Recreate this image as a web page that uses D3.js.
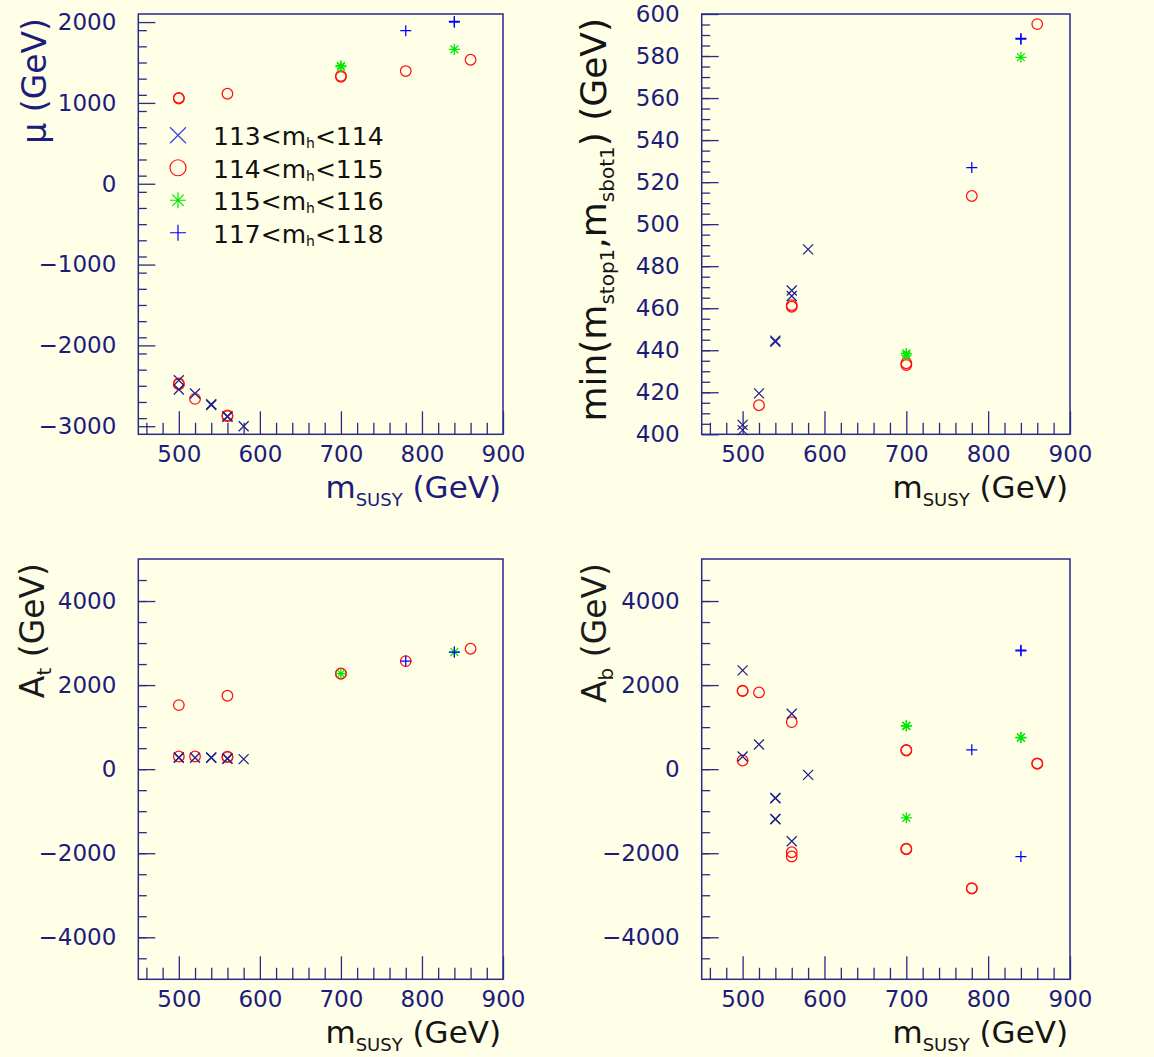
<!DOCTYPE html>
<html><head><meta charset="utf-8">
<script src="https://cdn.jsdelivr.net/npm/d3@7"></script>
<style>body{margin:0;background:#fffee6} svg{display:block}</style>
</head><body><svg id="c" width="1154" height="1057"></svg>
<script>
// ---------- data ----------
const xMajorTicks = [500, 600, 700, 800, 900];
const xDomain = [450, 900];
const muTicks = [-3000, -2000, -1000, 0, 1000, 2000];
const mstopTicks = [400, 420, 440, 460, 480, 500, 520, 540, 560, 580, 600];
const aTicks = [-4000, -2000, 0, 2000, 4000];

const legendLabels = ["113", "114", "115", "117"];
const legendLabelsHi = ["114", "115", "116", "118"];

// panel 1: mu
const muCross = [[500,-2431],[500,-2546],[520,-2595],[540,-2728],[540,-2738],[560,-2876],[560,-2884],[580,-3000]];
const muCircle = [[500,1055],[500,1063],[500,-2480],[500,-2472],[520,-2662],[560,1113],[560,-2876],[560,-2866],[700,1323],[700,1335],[780,1394],[860,1534]];
const muStar = [[700,1447],[700,1460],[840,1662]];
const muPlus = [[780,1893],[840,2008],[840,1998]];

// panel 2: min(mstop1, msbot1)
const msCross = [[500,402],[500,404.5],[520,419.5],[540,444],[540,444.6],[560,468.4],[560,465.8],[580,488]];
const msCircle = [[520,413.8],[560,460.7],[560,461.4],[700,433],[700,433.8],[780,513.4],[860,595.2]];
const msStar = [[700,437.7],[700,438.5],[840,579.4]];
const msPlus = [[780,526.9],[840,588],[840,588.4]];

// panel 3: A_t
const atCross = [[500,270],[500,276],[520,270],[540,270],[540,278],[560,246],[560,254],[580,238]];
const atCircle = [[500,1524],[500,302],[520,302],[560,1746],[560,286],[560,294],[700,2270],[700,2280],[780,2571],[860,2865]];
const atStar = [[700,2270],[840,2786]];
const atPlus = [[780,2571],[840,2786]];

// panel 4: A_b
const abCross = [[500,2349],[500,302],[520,587],[540,-683],[540,-693],[540,-1183],[540,-1193],[560,1317],[560,-1714],[580,-135]];
const abCircle = [[500,1857],[500,1869],[500,206],[520,1825],[560,1119],[560,-1976],[560,-2079],[700,444],[700,456],[700,-1905],[700,-1895],[780,-2841],[780,-2831],[860,127],[860,139]];
const abStar = [[700,1024],[700,1036],[700,-1159],[840,746],[840,758]];
const abPlus = [[780,460],[840,2817],[840,2829],[840,-2079]];

// ---------- style ----------
const FONT = "DejaVu Sans, Liberation Sans, sans-serif";
const navy = "#1c1c7c";
const axisCol = "#2a2a88";
const colCross = "#20208e", colCrossLeg = "#3c3cee", colCircle = "#ff1010", colStar = "#00e800", colPlus = "#0000ff";

const svg = d3.select("#c");
svg.append("rect").attr("width", 1154).attr("height", 1057).attr("fill", "#fffee6");

function markerPath(type, s) {
  if (type === "cross") return `M${-s},${-s}L${s},${s}M${-s},${s}L${s},${-s}`;
  if (type === "plus") return `M${-s},0L${s},0M0,${-s}L0,${s}`;
  if (type === "star") { const d = s * 0.7071; return `M${-s},0L${s},0M0,${-s}L0,${s}M${-d},${-d}L${d},${d}M${-d},${d}L${d},${-d}`; }
  return "";
}
function drawMarker(g, type, cx, cy, size, color, sw) {
  if (type === "circle") {
    g.append("circle").attr("cx", cx).attr("cy", cy).attr("r", size).attr("fill", "none").attr("stroke", color).attr("stroke-width", sw);
  } else {
    g.append("path").attr("transform", `translate(${cx},${cy})`).attr("d", markerPath(type, size)).attr("fill", "none").attr("stroke", color).attr("stroke-width", sw);
  }
}

function panel(cfg) {
  const x = d3.scaleLinear().domain(xDomain).range([cfg.l, cfg.r]);
  const y = d3.scaleLinear().domain(cfg.ydom).range([cfg.b, cfg.t]);
  const g = svg.append("g");

  const xMinor = d3.range(460, 901, 20).filter(v => xMajorTicks.indexOf(v) < 0);
  const yMinor = d3.range(cfg.ydom[0], cfg.ydom[1] + 0.001, cfg.yMinorStep).filter(v => v > cfg.ydom[0] && v < cfg.ydom[1]);

  const style = sel => {
    sel.select(".domain").remove();
    sel.selectAll("line").attr("stroke", axisCol).attr("stroke-width", 1.3);
    sel.selectAll("text").attr("fill", navy).style("font-family", FONT).style("font-size", "23px");
  };
  g.append("g").attr("transform", `translate(0,${cfg.b})`)
    .call(d3.axisBottom(x).tickValues(xMinor).tickSize(-11.5).tickFormat("")).call(style);
  g.append("g").attr("transform", `translate(0,${cfg.b})`)
    .call(d3.axisBottom(x).tickValues(xMajorTicks).tickSize(-23).tickPadding(11).tickFormat(d3.format("d"))).call(style);
  g.append("g").attr("transform", `translate(${cfg.l},0)`)
    .call(d3.axisLeft(y).tickValues(yMinor).tickSize(-8.5).tickFormat("")).call(style);
  g.append("g").attr("transform", `translate(${cfg.l},0)`)
    .call(d3.axisLeft(y).tickValues(cfg.yTicks).tickSize(-17).tickPadding(22)
      .tickFormat(v => (v < 0 ? "\u2212" + Math.abs(v) : String(v)))).call(style);

  g.append("rect").attr("x", cfg.l).attr("y", cfg.t).attr("width", cfg.r - cfg.l).attr("height", cfg.b - cfg.t)
    .attr("fill", "none").attr("stroke", axisCol).attr("stroke-width", 1.5);

  const series = [
    ["circle", cfg.circle, colCircle, 5.3],
    ["cross", cfg.cross, colCross, 5],
    ["star", cfg.star, colStar, 5.5],
    ["plus", cfg.plus, colPlus, 5.5]
  ];
  const mg = g.append("g");
  series.forEach(([type, data, color, size]) => {
    data.forEach(d => {
      const yy = y(d[1]);
      if (yy < cfg.t - 1 || yy > cfg.b + 1) return;
      drawMarker(mg, type, x(d[0]), yy, size, color, 1.25);
    });
  });

  // x title
  const xt = g.append("text").attr("x", cfg.r - 2).attr("y", cfg.b + 64).attr("text-anchor", "end")
    .style("font-family", FONT).style("font-size", "31px").attr("fill", cfg.titleCol);
  xt.append("tspan").text("m");
  xt.append("tspan").text("SUSY").style("font-size", "18px").attr("dy", 8);
  xt.append("tspan").text(" (GeV)").attr("dy", -8);

  // y title
  const yt = g.append("text").attr("transform", `translate(${cfg.ytx},${cfg.t + 4}) rotate(-90)`)
    .attr("text-anchor", "end").style("font-family", FONT).style("font-size", cfg.ytSize + "px").attr("fill", cfg.ytCol);
  cfg.ytitle.forEach(([t, sub]) => {
    if (sub) yt.append("tspan").text(t).style("font-size", cfg.ytSub + "px").attr("dy", cfg.ytSubDy);
    else yt.append("tspan").text(t).attr("dy", 0);
  });
  // fix dy resets
  let shifted = false;
  yt.selectAll("tspan").each(function () {
    const el = d3.select(this);
    const isSub = el.style("font-size") === cfg.ytSub + "px";
    if (isSub) { el.attr("dy", shifted ? 0 : cfg.ytSubDy); shifted = true; }
    else { el.attr("dy", shifted ? -cfg.ytSubDy : 0); shifted = false; }
  });

  return { g, x, y };
}

panel({ l: 138.3, r: 503, t: 14, b: 434.3, ydom: [-3100, 2100], yTicks: muTicks, yMinorStep: 200,
  cross: muCross, circle: muCircle, star: muStar, plus: muPlus, titleCol: navy, ytCol: navy,
  ytx: 46, ytSize: 33, ytSub: 20, ytSubDy: 7, ytitle: [["\u03bc (GeV)", false]] });

panel({ l: 701.7, r: 1070, t: 14, b: 434.3, ydom: [400, 600], yTicks: mstopTicks, yMinorStep: 5,
  cross: msCross, circle: msCircle, star: msStar, plus: msPlus, titleCol: "#141414", ytCol: "#141414",
  ytx: 606, ytSize: 36, ytSub: 20, ytSubDy: 8,
  ytitle: [["min(m", false], ["stop1", true], [",m", false], ["sbot1", true], [") (GeV)", false]] });

panel({ l: 138.3, r: 503, t: 559, b: 979.3, ydom: [-5000, 5000], yTicks: aTicks, yMinorStep: 500,
  cross: atCross, circle: atCircle, star: atStar, plus: atPlus, titleCol: "#141414", ytCol: "#1a1a1a",
  ytx: 44, ytSize: 33, ytSub: 20, ytSubDy: 7, ytitle: [["A", false], ["t", true], [" (GeV)", false]] });

panel({ l: 701.7, r: 1070, t: 559, b: 979.3, ydom: [-5000, 5000], yTicks: aTicks, yMinorStep: 500,
  cross: abCross, circle: abCircle, star: abStar, plus: abPlus, titleCol: "#141414", ytCol: "#1a1a1a",
  ytx: 606, ytSize: 33, ytSub: 20, ytSubDy: 7, ytitle: [["A", false], ["b", true], [" (GeV)", false]] });

// legend in panel 1
const legTypes = ["cross", "circle", "star", "plus"];
const legCols = [colCrossLeg, colCircle, colStar, colPlus];
const legY = d3.scaleBand().domain(d3.range(4)).range([119, 249]);
const lg = svg.append("g");
legTypes.forEach((t, i) => {
  const cy = legY(i) + legY.bandwidth() / 2;
  drawMarker(lg, t, 178, cy, 8, legCols[i], 1.2);
  const tx = lg.append("text").attr("x", 213).attr("y", cy + 10).style("font-family", FONT)
    .style("font-size", "25px").attr("fill", "#111");
  tx.append("tspan").text(legendLabels[i] + "<m");
  tx.append("tspan").text("h").style("font-size", "14px").attr("dy", 3);
  tx.append("tspan").text("<" + legendLabelsHi[i]).attr("dy", -3);
});
</script></body></html>
